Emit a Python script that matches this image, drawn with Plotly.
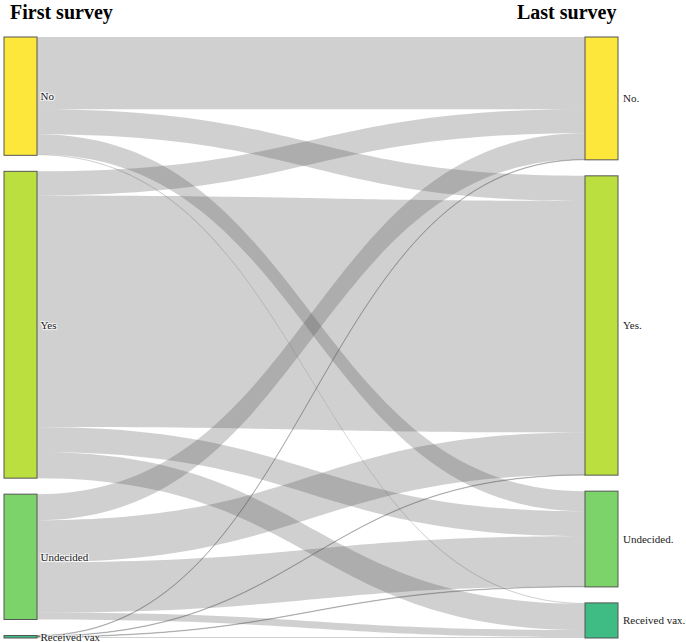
import plotly.graph_objects as go

# Data
first_labels = ["No", "Yes", "Undecided", "Received vax"]
last_labels = ["No.", "Yes.", "Undecided.", "Received vax."]
node_colors = ["#fde73a", "#bcdf40", "#7cd36a", "#3ebc84"]

# rows = first survey answer, columns = last survey answer
flows = [
    [72, 25, 20, 1],     # No
    [24, 231, 25, 26],   # Yes
    [26, 42, 50, 7],     # Undecided
    [0.5, 0.5, 0.5, 1],  # Received vax
]

NODE_PAD = 16
MARGIN = dict(l=4, r=68, t=37, b=4)
WIDTH, HEIGHT = 686, 642

# Build sankey
n_first = len(first_labels)
sources, targets, values = [], [], []
for i, row in enumerate(flows):
    for j, v in enumerate(row):
        sources.append(i)
        targets.append(n_first + j)
        values.append(v)

# right-column labels go on the right side of the nodes, so they are
# drawn as annotations (plotly puts last-column labels on the left)
fig = go.Figure(go.Sankey(
    arrangement="fixed",
    node=dict(
        label=first_labels + [""] * len(last_labels),
        customdata=first_labels + last_labels,
        hovertemplate="%{customdata}: %{value}<extra></extra>",
        color=node_colors + node_colors,
        thickness=33,
        pad=NODE_PAD,
        line=dict(color="#555555", width=1),
    ),
    link=dict(
        source=sources,
        target=targets,
        value=values,
        color="rgba(80,80,80,0.27)",
    ),
    textfont=dict(family="Liberation Serif", size=11, color="#222222"),
))

# vertical centres of the last-survey nodes, same scale the sankey uses
plot_h = HEIGHT - MARGIN["t"] - MARGIN["b"]
in_totals = [sum(row[j] for row in flows) for j in range(len(last_labels))]
out_totals = [sum(row) for row in flows]
total = max(sum(in_totals), sum(out_totals))
ky = (plot_h - (len(last_labels) - 1) * NODE_PAD) / total
y = 0
for lab, tot in zip(last_labels, in_totals):
    h = tot * ky
    fig.add_annotation(text=lab, x=1, y=1 - (y + h / 2) / plot_h, xref="paper", yref="paper",
                       xanchor="left", yanchor="middle", xshift=3, showarrow=False,
                       font=dict(family="Liberation Serif", size=11, color="#222222"))
    y += h + NODE_PAD

# column titles
fig.add_annotation(text="<b>First survey</b>", x=0.007, y=1.04, xref="paper", yref="paper",
                   xanchor="left", yanchor="middle", showarrow=False,
                   font=dict(family="Liberation Serif", size=20, color="black"))
fig.add_annotation(text="<b>Last survey</b>", x=1.0, y=1.04, xref="paper", yref="paper",
                   xanchor="right", yanchor="middle", showarrow=False,
                   font=dict(family="Liberation Serif", size=20, color="black"))

fig.update_layout(
    width=WIDTH, height=HEIGHT,
    margin=MARGIN,
    paper_bgcolor="white",
    plot_bgcolor="white",
)

fig.write_html("out.html", config={"displayModeBar": False},
               post_script="document.body.style.margin = '0';")
